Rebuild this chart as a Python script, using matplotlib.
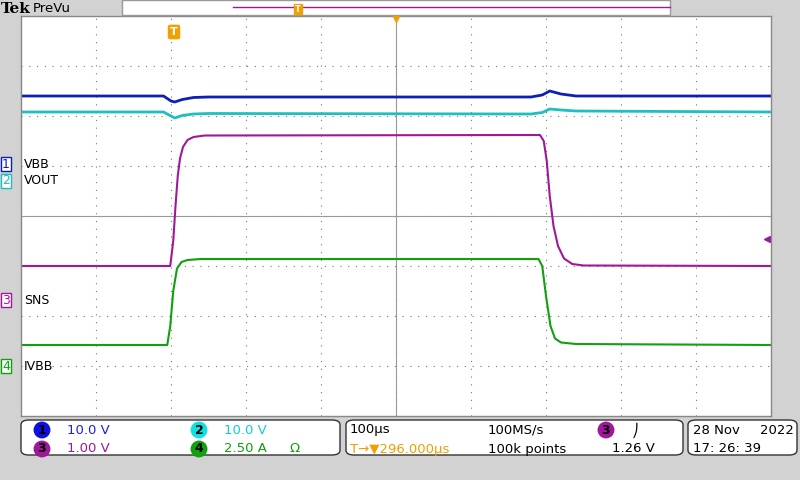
import matplotlib.pyplot as plt
from matplotlib.patches import FancyBboxPatch, Rectangle

# time in microseconds (100 us/div), level in divisions
t_vbb = [0, 190, 200, 205, 215, 230, 250, 680, 695, 705, 720, 740, 1000]
v_vbb = [2.40, 2.40, 2.30, 2.28, 2.33, 2.37, 2.38, 2.38, 2.42, 2.50, 2.44, 2.40, 2.40]
t_vout = [0, 190, 200, 205, 215, 230, 250, 680, 695, 705, 720, 740, 1000]
v_vout = [2.08, 2.08, 2.00, 1.96, 2.01, 2.04, 2.05, 2.04, 2.07, 2.14, 2.12, 2.10, 2.08]
t_sns = [0, 199, 203, 206, 209, 212, 216, 222, 230, 245, 692, 697, 701, 705, 710, 716, 724, 735, 750, 1000]
v_sns = [-1.00, -1.00, -0.50, 0.20, 0.80, 1.15, 1.38, 1.52, 1.58, 1.61, 1.62, 1.50, 1.10, 0.40, -0.20, -0.60, -0.85, -0.96, -0.99, -1.00]
t_ivbb = [0, 195, 199, 203, 208, 214, 222, 240, 690, 695, 700, 706, 712, 720, 740, 1000]
v_ivbb = [-2.58, -2.58, -2.20, -1.50, -1.05, -0.92, -0.88, -0.86, -0.86, -1.00, -1.60, -2.20, -2.45, -2.53, -2.56, -2.58]

BLUE = '#0f1fb4'
CYAN = '#1fbfbf'
MAG = '#a0189a'
GREEN = '#10a010'
ORANGE = '#f0a000'

fig = plt.figure(figsize=(8, 4.8), dpi=100, facecolor='#d2d2d2')
ax = fig.add_axes([21/800, 64/480, 750/800, 400/480])
ax.set_facecolor('white')
ax.set_xlim(0, 1000)
ax.set_ylim(-4, 4)
ax.set_xticks([])
ax.set_yticks([])
for s in ax.spines.values():
    s.set_color('#888888')
    s.set_linewidth(1)

# graticule
for x in range(100, 1000, 100):
    ax.axvline(x, color='#777777', lw=0.8, ls=(0, (1, 6)))
for y in range(-3, 4):
    ax.axhline(y, color='#777777', lw=0.8, ls=(0, (1, 6)))
ax.axvline(500, color='#999999', lw=0.8)
ax.axhline(0, color='#999999', lw=0.8)

ax.plot(t_vbb, v_vbb, color=BLUE, lw=2)
ax.plot(t_vout, v_vout, color=CYAN, lw=2)
ax.plot(t_sns, v_sns, color=MAG, lw=1.5)
ax.plot(t_ivbb, v_ivbb, color=GREEN, lw=1.5)

# trigger marker
ax.text(204, 3.68, 'T', color='white', fontsize=8, weight='bold', ha='center', va='center',
        bbox=dict(boxstyle='round,pad=0.15', fc=ORANGE, ec=ORANGE))
ax.plot([995], [-0.45], marker='<', color=MAG, ms=5, clip_on=False)

# channel labels
def chlabel(y, num, name, col):
    fig.text(2/800, 1 - y/480, num, color=col, fontsize=9, va='center',
             bbox=dict(boxstyle='square,pad=0.05', fc='white', ec=col))
    fig.text(24/800, 1 - y/480, name, color='black', fontsize=9, va='center')

chlabel(164, '1', 'VBB', BLUE)
chlabel(181, '2', 'VOUT', CYAN)
chlabel(300, '3', 'SNS', MAG)
chlabel(366, '4', 'IVBB', GREEN)

# top bar
fig.text(1/800, 1 - 9/480, 'Tek', fontsize=11, weight='bold', family='DejaVu Serif', va='center')
fig.text(33/800, 1 - 9/480, 'PreVu', fontsize=9.5, va='center')
fig.patches.append(Rectangle((122/800, 1 - 15/480), 548/800, 15/480, transform=fig.transFigure,
                             fc='white', ec='#999999'))
fig.add_artist(plt.Line2D([233/800, 670/800], [1 - 7/480, 1 - 7/480], color=MAG, lw=1))
fig.text(298/800, 1 - 9/480, 'T', color='white', fontsize=6, weight='bold', ha='center', va='center',
         bbox=dict(boxstyle='square,pad=0.1', fc=ORANGE, ec=ORANGE))
fig.add_artist(plt.Line2D([396/800], [1 - 19/480], marker='v', color=ORANGE, ms=5))

# bottom status boxes
def box(x0, x1):
    fig.patches.append(FancyBboxPatch((x0/800, 1 - 455/480), (x1 - x0)/800, 35/480,
                                      boxstyle='round,pad=0,rounding_size=0.01',
                                      transform=fig.transFigure, fc='white', ec='#333333', lw=1))

box(21, 340)
box(346, 683)
box(688, 797)

def circ(x, y, num, col):
    fig.text(x/800, 1 - y/480, num, fontsize=9, weight='bold', ha='center', va='center',
             bbox=dict(boxstyle='circle,pad=0.1', fc=col, ec=col))

def t(x, y, s, col='black', ha='left'):
    fig.text(x/800, 1 - y/480, s, color=col, fontsize=9.5, va='center', ha=ha)

circ(42, 430, '1', '#1010e0')
t(67, 430, '10.0 V', '#2020e0')
circ(199, 430, '2', '#10e0e0')
t(224, 430, '10.0 V', '#10d0d0')
circ(42, 449, '3', MAG)
t(67, 449, '1.00 V', MAG)
circ(199, 449, '4', GREEN)
t(224, 449, '2.50 A', GREEN)
t(290, 449, 'Ω', GREEN)

t(350, 430, '100µs')
t(350, 449, 'T→▼296.000µs', ORANGE)
t(488, 430, '100MS/s')
t(488, 449, '100k points')
circ(606, 430, '3', MAG)
t(632, 430, '⎠')
t(655, 449, '1.26 V', ha='right')

t(693, 430, '28 Nov')
t(794, 430, '2022', ha='right')
t(693, 449, '17: 26: 39')

fig.savefig('out.png', dpi=100, facecolor=fig.get_facecolor())
